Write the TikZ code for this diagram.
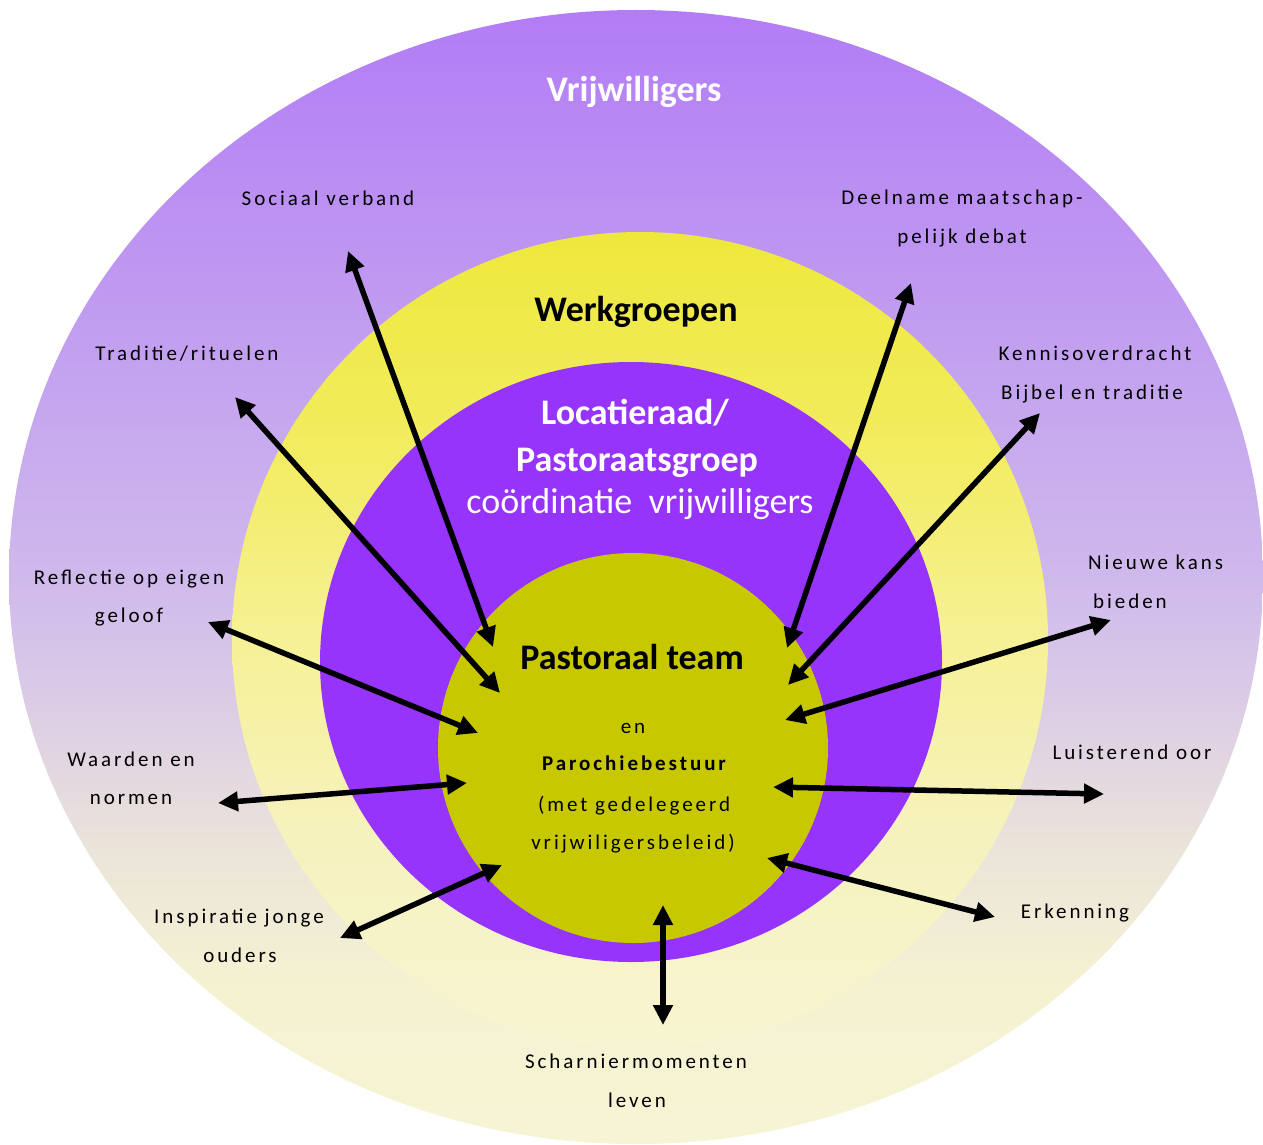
\documentclass[tikz,border=0pt]{standalone}
\usepackage{fontspec}
\setmainfont{Carlito}
\usetikzlibrary{arrows.meta}
\definecolor{oA}{RGB}{246,244,212}
\definecolor{oB}{RGB}{245,242,210}
\definecolor{oC}{RGB}{235,228,218}
\definecolor{oD}{RGB}{218,202,230}
\definecolor{oE}{RGB}{207,185,236}
\definecolor{oF}{RGB}{192,155,240}
\definecolor{oG}{RGB}{178,124,246}
\definecolor{yA}{RGB}{247,244,210}
\definecolor{yB}{RGB}{246,242,190}
\definecolor{yC}{RGB}{246,241,150}
\definecolor{yD}{RGB}{242,236,95}
\definecolor{yE}{RGB}{238,232,60}
\pgfdeclareverticalshading{outerShade}{100bp}{color(0bp)=(oA); color(25bp)=(oA); color(32bp)=(oB); color(38bp)=(oC); color(45bp)=(oD); color(50bp)=(oE); color(62bp)=(oF); color(75bp)=(oG); color(100bp)=(oG)}
\pgfdeclareverticalshading{yelShade}{100bp}{color(0bp)=(yA); color(25bp)=(yA); color(38bp)=(yB); color(50bp)=(yC); color(62bp)=(yD); color(75bp)=(yE); color(100bp)=(yE)}
\definecolor{ringPurple}{RGB}{150,52,252}
\definecolor{coreOlive}{RGB}{200,200,0}
\begin{document}
\begin{tikzpicture}[x=1pt,y=-1pt,
  lbl/.style={font=\fontsize{21}{25}\selectfont\addfontfeature{LetterSpace=14}, text height=16pt, text depth=2pt, inner sep=0pt},
  big/.style={font=\fontsize{36}{40}\selectfont, text height=24pt, text depth=2pt, inner sep=0pt},
  arr/.style={line width=5.5pt, {Triangle[length=20pt,width=19pt]}-{Triangle[length=20pt,width=19pt]}}]
\useasboundingbox (0,0) rectangle (1263,1145);
\fill[white] (0,0) rectangle (1263,1145);
% rings
\path[shading=outerShade] (636,577) ellipse [x radius=627pt, y radius=567pt];
\path[shading=yelShade] (640,640) ellipse [x radius=408pt, y radius=408pt];
\fill[ringPurple] (631,662) ellipse [x radius=311pt, y radius=300pt];
\fill[coreOlive] (633,748) circle [radius=195pt];
% titles
\node[big, text=white] (vrij) at (634,91) {\bfseries Vrijwilligers};
\node[big] (werk) at (636,310) {\bfseries Werkgroepen};
\node[big, text=white] (loc1) at (635,413) {\bfseries Locatieraad/};
\node[big, text=white] (loc2) at (637,460) {\bfseries Pastoraatsgroep};
\node[big, text=white] (loc3) at (640,502) {coördinatie\ \ vrijwilligers};
\node[big] (pt) at (632,658) {\bfseries Pastoraal team};
\node[lbl] (en) at (633,726) {en};
\node[lbl] (pb) at (634,763) {\bfseries Parochiebestuur};
\node[lbl] (met) at (634,804) {(met gedelegeerd};
\node[lbl] (vb) at (633,842) {vrijwiligersbeleid)};
% labels
\node[lbl] (soc) at (328,198) {Sociaal verband};
\node[lbl] (dee1) at (962,197) {Deelname maatschap-};
\node[lbl] (dee2) at (962,236) {pelijk debat};
\node[lbl] (tra) at (187,353) {Traditie/rituelen};
\node[lbl] (ken1) at (1095,353) {Kennisoverdracht};
\node[lbl] (ken2) at (1092,392) {Bijbel en traditie};
\node[lbl] (ref1) at (129,577) {Reflectie op eigen};
\node[lbl] (ref2) at (129,615) {geloof};
\node[lbl, anchor=west] (nie1) at (1088,562) {Nieuwe kans};
\node[lbl, anchor=west] (nie2) at (1093,601) {bieden};
\node[lbl] (waa1) at (131,759) {Waarden en};
\node[lbl] (waa2) at (131,797) {normen};
\node[lbl] (lui) at (1132,752) {Luisterend oor};
\node[lbl] (ins1) at (239,916) {Inspiratie jonge};
\node[lbl] (ins2) at (240,955) {ouders};
\node[lbl] (erk) at (1075,911) {Erkenning};
\node[lbl] (sch1) at (636,1061) {Scharniermomenten};
\node[lbl] (sch2) at (637,1100) {leven};
% arrow end points
\coordinate (s1) at (348,251); \coordinate (e1) at (493,647);
\coordinate (s2) at (235,397); \coordinate (e2) at (500,693);
\coordinate (s3) at (208,622); \coordinate (e3) at (478,733);
\coordinate (s4) at (218,803); \coordinate (e4) at (467,783);
\coordinate (s5) at (340,938); \coordinate (e5) at (502,865);
\coordinate (s6) at (663,1025); \coordinate (e6) at (663,905);
\coordinate (s7) at (995,917); \coordinate (e7) at (767,858);
\coordinate (s8) at (1104,794); \coordinate (e8) at (773,787);
\coordinate (s9) at (1111,620); \coordinate (e9) at (785,720);
\coordinate (s10) at (1040,413); \coordinate (e10) at (788,685);
\coordinate (s11) at (911,283); \coordinate (e11) at (787,648);
\foreach \i in {1,...,11} { \draw[arr] (s\i) -- (e\i); }
\end{tikzpicture}
\end{document}
